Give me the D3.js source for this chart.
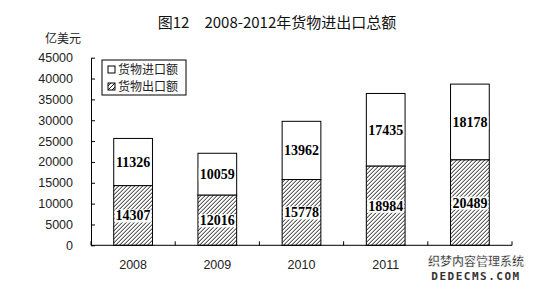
<!DOCTYPE html>
<html>
<head>
<meta charset="utf-8">
<script src="https://cdn.jsdelivr.net/npm/d3@7"></script>
<style>
  body { margin: 0; background: #fff; }
  svg { display: block; }
</style>
</head>
<body>
<div id="chart"></div>
<script>
const years = ['2008', '2009', '2010', '2011', '2012'];
const exportsVal = [14307, 12016, 15778, 18984, 20489];
const importsVal = [11326, 10059, 13962, 17435, 18178];
const yTicks = [0, 5000, 10000, 15000, 20000, 25000, 30000, 35000, 40000, 45000];
// 2012 year label is hidden under the watermark in the reference
const shownYears = ['2008', '2009', '2010', '2011'];

const width = 536, height = 289;
const margin = { left: 91, right: 24, top: 57.7, bottom: 43.7 };
const innerWidth = width - margin.left - margin.right;
const innerHeight = height - margin.top - margin.bottom;

const svg = d3.select('#chart')
    .append('svg')
    .attr('width', width)
    .attr('height', height);

// hatch pattern for exports
const defs = svg.append('defs');
const pat = defs.append('pattern')
    .attr('id', 'hatch')
    .attr('patternUnits', 'userSpaceOnUse')
    .attr('width', 4)
    .attr('height', 4);
pat.append('rect').attr('width', 4).attr('height', 4).attr('fill', '#fff');
pat.append('path')
    .attr('d', 'M-1,1 l2,-2 M0,4 l4,-4 M3,5 l2,-2')
    .attr('stroke', '#000')
    .attr('stroke-width', 0.9);

const g = svg.append('g')
    .attr('transform', `translate(${margin.left},${margin.top})`);

const x = d3.scaleBand()
    .domain(years)
    .range([0, innerWidth])
    .paddingInner(0.54)
    .paddingOuter(0.27);

const y = d3.scaleLinear()
    .domain([0, 45000])
    .range([innerHeight, 0]);

// title
svg.append('text')
    .attr('x', 277)
    .attr('y', 28)
    .attr('text-anchor', 'middle')
    .attr('font-family', 'Noto Sans CJK SC')
    .attr('font-size', 15)
    .attr('fill', '#111')
    .text('图12　2008-2012年货物进出口总额');

svg.append('text')
    .attr('x', 45)
    .attr('y', 43)
    .attr('font-family', 'Noto Sans CJK SC')
    .attr('font-size', 12)
    .attr('fill', '#222')
    .text('亿美元');

// bars
const cols = g.selectAll('.col')
    .data(years)
    .join('g')
    .attr('class', 'col');

cols.append('rect')
    .attr('x', d => x(d))
    .attr('width', x.bandwidth())
    .attr('y', (d, i) => y(exportsVal[i] + importsVal[i]))
    .attr('height', (d, i) => y(exportsVal[i]) - y(exportsVal[i] + importsVal[i]))
    .attr('fill', '#fff')
    .attr('stroke', '#000')
    .attr('stroke-width', 1);

cols.append('rect')
    .attr('x', d => x(d))
    .attr('width', x.bandwidth())
    .attr('y', (d, i) => y(exportsVal[i]))
    .attr('height', (d, i) => innerHeight - y(exportsVal[i]))
    .attr('fill', 'url(#hatch)')
    .attr('stroke', '#000')
    .attr('stroke-width', 1);

// value labels
function addLabel(sel, cx, cy, txt) {
    const t = sel.append('text')
        .attr('x', cx)
        .attr('y', cy + 5)
        .attr('text-anchor', 'middle')
        .attr('font-family', 'Liberation Serif')
        .attr('font-weight', 'bold')
        .attr('font-size', 14)
        .attr('fill', '#000')
        .text(txt);
    const bb = t.node().getBBox();
    sel.insert('rect', () => t.node())
        .attr('x', bb.x - 1)
        .attr('y', bb.y + 1)
        .attr('width', bb.width + 2)
        .attr('height', bb.height - 2)
        .attr('fill', '#fff');
}

years.forEach((d, i) => {
    const cx = x(d) + x.bandwidth() / 2;
    const col = d3.select(cols.nodes()[i]);
    addLabel(col, cx, (y(exportsVal[i]) + y(exportsVal[i] + importsVal[i])) / 2, importsVal[i]);
    addLabel(col, cx, (y(0) + y(exportsVal[i])) / 2, exportsVal[i]);
});

// axes
const leftAxis = d3.axisLeft(y)
    .tickValues(yTicks)
    .tickFormat(d3.format('d'))
    .tickSize(4)
    .tickSizeOuter(0)
    .tickPadding(14);

const yAxisG = g.append('g').call(leftAxis);
yAxisG.select('.domain').attr('stroke', '#000');
yAxisG.selectAll('.tick line').attr('stroke', '#000').attr('x2', 4);
yAxisG.selectAll('.tick text')
    .attr('x', -18)
    .attr('font-family', 'Liberation Sans')
    .attr('font-size', 12.5)
    .attr('fill', '#222');

const xAxisG = g.append('g')
    .attr('transform', `translate(0,${innerHeight})`);
xAxisG.append('line')
    .attr('x1', 0).attr('x2', innerWidth)
    .attr('y1', 0).attr('y2', 0)
    .attr('stroke', '#000');
xAxisG.selectAll('.xtick')
    .data(years)
    .join('line')
    .attr('class', 'xtick')
    .attr('x1', d => x(d) - x.step() * x.paddingInner() / 2)
    .attr('x2', d => x(d) - x.step() * x.paddingInner() / 2)
    .attr('y1', 0).attr('y2', -4)
    .attr('stroke', '#000');
xAxisG.append('line')
    .attr('x1', innerWidth).attr('x2', innerWidth)
    .attr('y1', 0).attr('y2', -4)
    .attr('stroke', '#000');
xAxisG.selectAll('.xlabel')
    .data(shownYears)
    .join('text')
    .attr('class', 'xlabel')
    .attr('x', d => x(d) + x.bandwidth() / 2)
    .attr('y', 24)
    .attr('text-anchor', 'middle')
    .attr('font-family', 'Liberation Sans')
    .attr('font-size', 12.5)
    .attr('fill', '#222')
    .text(d => d);

// legend
const legend = svg.append('g').attr('transform', 'translate(102,60)');
legend.append('rect')
    .attr('width', 84).attr('height', 35)
    .attr('fill', '#fff').attr('stroke', '#000');
const legItems = [{ name: '货物进口额', fill: '#fff' }, { name: '货物出口额', fill: 'url(#hatch)' }];
legend.selectAll('.li')
    .data(legItems)
    .join('rect')
    .attr('class', 'li')
    .attr('x', 6)
    .attr('y', (d, i) => 6 + i * 17)
    .attr('width', 7).attr('height', 7)
    .attr('fill', d => d.fill)
    .attr('stroke', '#000');
legend.selectAll('.lt')
    .data(legItems)
    .join('text')
    .attr('class', 'lt')
    .attr('x', 16)
    .attr('y', (d, i) => 14 + i * 17)
    .attr('font-family', 'Noto Sans CJK SC')
    .attr('font-size', 12)
    .attr('fill', '#222')
    .text(d => d.name);

// watermark
const wm = svg.append('g');
wm.append('text')
    .attr('x', 476).attr('y', 266)
    .attr('text-anchor', 'middle')
    .attr('font-family', 'Noto Sans CJK SC')
    .attr('font-weight', 'bold')
    .attr('font-size', 12)
    .attr('fill', '#333')
    .attr('stroke', '#fff')
    .attr('stroke-width', 0.4)
    .text('织梦内容管理系统');
wm.append('text')
    .attr('x', 476).attr('y', 280)
    .attr('text-anchor', 'middle')
    .attr('font-family', 'DejaVu Sans Mono')
    .attr('font-weight', 'bold')
    .attr('font-size', 11)
    .attr('letter-spacing', 1.5)
    .attr('fill', '#333')
    .text('DEDECMS.COM');
</script>
</body>
</html>
